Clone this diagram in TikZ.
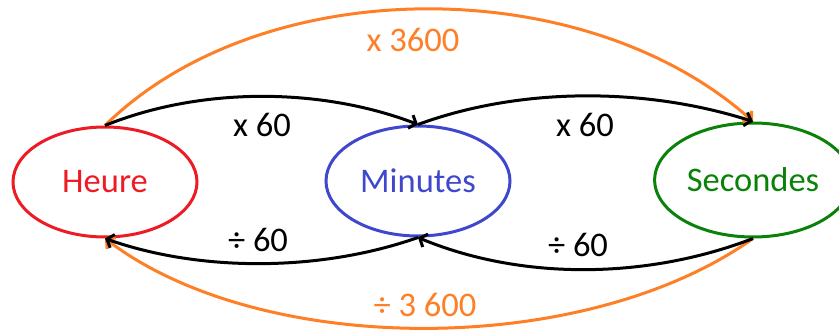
\documentclass[tikz,border=0pt]{standalone}
\usepackage{fontspec}
\setmainfont{Carlito}
\usetikzlibrary{arrows.meta,shapes.geometric}
\definecolor{heurered}{RGB}{237,28,36}
\definecolor{minblue}{RGB}{63,72,204}
\definecolor{secgreen}{RGB}{10,130,10}
\definecolor{convorange}{RGB}{255,127,39}
\tikzset{
    unit/.style={ellipse, draw, line width=3pt, minimum width=184pt, minimum height=110pt, font=\fontsize{34.5}{40}\selectfont},
    conv/.style={line width=3pt, -{Straight Barb[length=6pt,width=14pt]}},
    lbl/.style={font=\fontsize{34.5}{40}\selectfont, inner sep=0pt}
}
\begin{document}
\begin{tikzpicture}[x=1pt,y=-1pt]
    \useasboundingbox (0,0) rectangle (839,331);
    % Units
    \node[unit, heurered] (heure) at (105,182) {Heure};
    \node[unit, minblue] (minutes) at (418,181) {Minutes};
    \node[unit, secgreen, minimum height=114pt] (secondes) at (753,180) {Secondes};

    % Multiplications (top)
    \draw[conv, convorange] (heure.north) .. controls (262,-29) and (585,-29) .. (secondes.north);
    \draw[conv] (heure.north) .. controls (200,87) and (320,87) .. (minutes.north);
    \draw[conv] (minutes.north) .. controls (520,87) and (645,87) .. (secondes.north);
    \node[lbl, convorange] (l3600) at (413,40) {x 3600};
    \node[lbl] (lhm) at (262,125) {x 60};
    \node[lbl] (lms) at (585,125) {x 60};

    % Divisions (bottom)
    \draw[conv, convorange] (secondes.south) .. controls (585,358) and (262,358) .. (heure.south);
    \draw[conv] (minutes.south) .. controls (320,272) and (200,272) .. (heure.south);
    \draw[conv] (secondes.south) .. controls (645,280) and (520,280) .. (minutes.south);
    \node[lbl] (lmh) at (258,240) {÷ 60};
    \node[lbl] (lsm) at (578,245) {÷ 60};
    \node[lbl, convorange] (ld3600) at (425,305) {÷ 3 600};
\end{tikzpicture}
\end{document}
